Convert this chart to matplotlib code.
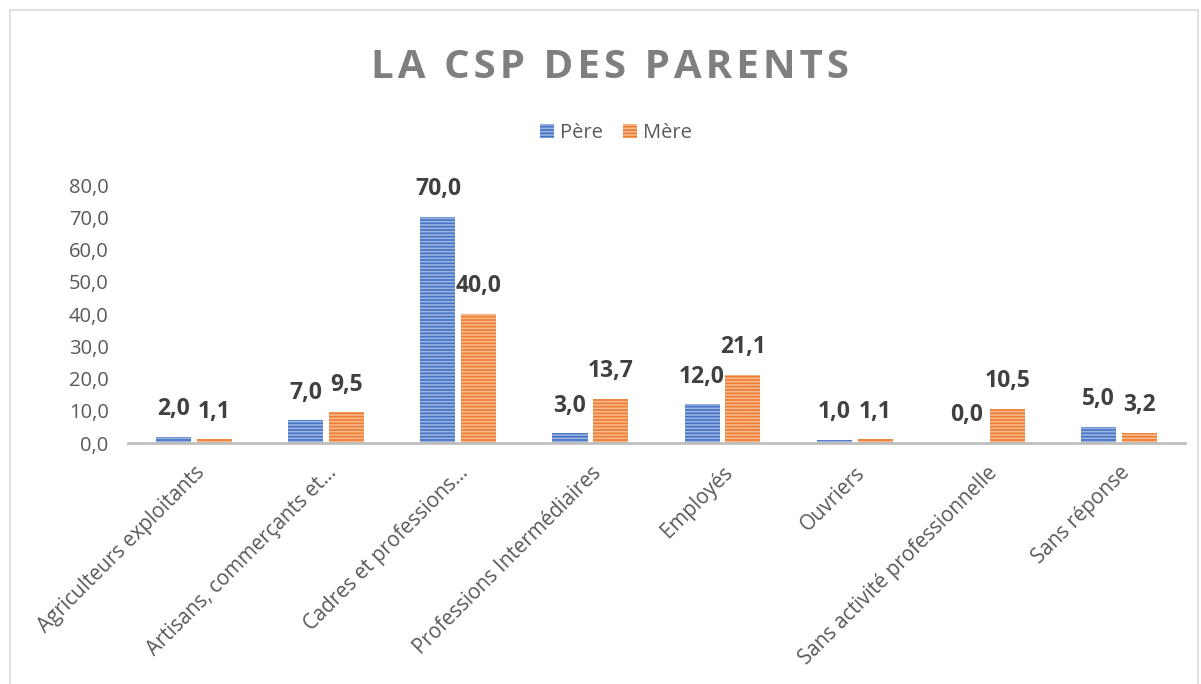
import matplotlib.pyplot as plt
import numpy as np
from matplotlib.patches import Rectangle

plt.rcParams['font.family'] = ['Open Sans', 'DejaVu Sans']
plt.rcParams['hatch.linewidth'] = 1.2

categories = ["Agriculteurs exploitants", "Artisans, commerçants et…",
              "Cadres et professions…", "Professions Intermédiaires",
              "Employés", "Ouvriers", "Sans activité professionnelle",
              "Sans réponse"]
pere = [2.0, 7.0, 70.0, 3.0, 12.0, 1.0, 0.0, 5.0]
mere = [1.1, 9.5, 40.0, 13.7, 21.1, 1.1, 10.5, 3.2]
yticks = [0, 10, 20, 30, 40, 50, 60, 70, 80]
title = "LA CSP DES PARENTS"

fig = plt.figure(figsize=(12.01, 6.84), dpi=100)
ax = fig.add_axes([0.1066, 0.3523, 0.880, 0.3772])

x = np.arange(len(categories))
w = 0.265
gap = 0.022
b1 = ax.bar(x - w/2 - gap, pere, w, color="#4472C4", edgecolor="#9db4e0",
            hatch="-----", linewidth=0, label="Père")
b2 = ax.bar(x + w/2 + gap, mere, w, color="#ED7D31", edgecolor="#f6b88e",
            hatch="-----", linewidth=0, label="Mère")

for bars, vals in ((b1, pere), (b2, mere)):
    for r, v in zip(bars, vals):
        ax.annotate(f"{v:.1f}".replace(".", ","), (r.get_x() + r.get_width()/2, v),
                    xytext=(0, 20), textcoords="offset points",
                    ha="center", va="center", fontsize=16.5, fontweight="bold",
                    color="#404040")

ax.set_xlim(-0.5, len(categories) - 0.5)
ax.set_ylim(0, 80)
ax.set_yticks(yticks)
ax.set_yticklabels([f"{t:.1f}".replace(".", ",") for t in yticks],
                   fontsize=14.5, color="#595959")
ax.set_xticks(x)
ax.set_xticklabels(categories, rotation=45, ha="right", rotation_mode="anchor",
                   fontsize=14.8, color="#595959")
ax.tick_params(axis="y", length=0, pad=14)
ax.tick_params(axis="x", length=0, pad=14)
for s in ("top", "right", "left"):
    ax.spines[s].set_visible(False)
ax.spines["bottom"].set_color("#bfbfbf")
ax.spines["bottom"].set_linewidth(2)

# letter spaced title (hair spaces between characters)
fig.text(0.508, 0.902, "\u200a".join(title),
         ha="center", va="center", fontsize=29, fontweight="bold", color="#7f7f7f")

fig.legend(handles=[b1, b2], loc="center", bbox_to_anchor=(0.513, 0.806), ncol=2,
           frameon=False, fontsize=14.5, labelcolor="#595959",
           handlelength=0.7, handleheight=0.7, handletextpad=0.3, columnspacing=1.0)

fig.patches.append(Rectangle((10/1201, -0.01), 1188/1201, 1 - 10/684 + 0.01,
                             transform=fig.transFigure, fill=False,
                             edgecolor="#d9d9d9", linewidth=1.2))

fig.savefig("out.png", dpi=100)
